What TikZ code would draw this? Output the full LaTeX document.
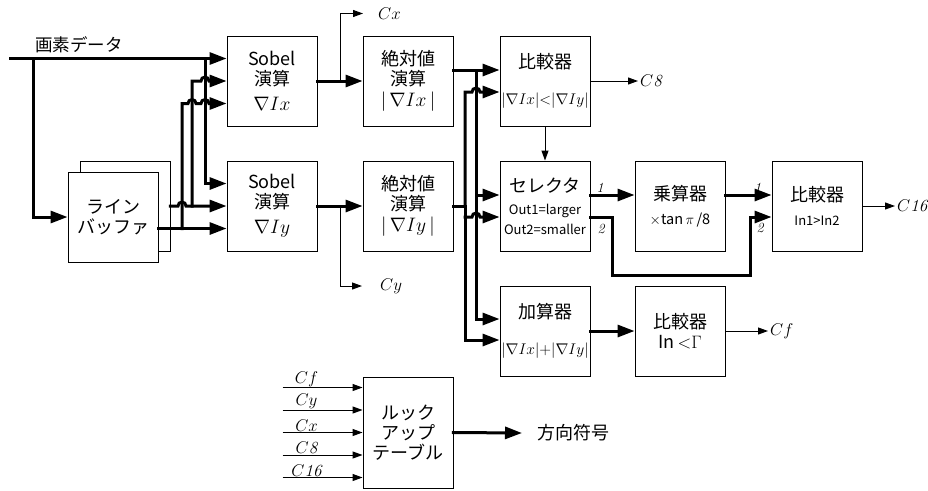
\RequirePackage{fix-cm}
\documentclass[tikz,border=0pt]{standalone}
\usepackage{fontspec}
\newfontfamily\jp{Noto Sans CJK JP}
\usetikzlibrary{arrows.meta}
\newcommand\smtxt{\fontsize{13}{15}\selectfont}
\newcommand\bigmath{\fontsize{19.5}{21}\selectfont}
\tikzset{
  blk/.style={draw, line width=0.9pt, fill=white, minimum width=90, minimum height=90,
    align=center, inner sep=1pt, font=\jp\fontsize{18}{20}\selectfont},
  wire/.style={line width=3pt, line cap=rect},
  bus/.style={wire, -{Triangle[length=17pt,width=12pt]}},
  sig/.style={line width=1pt, -{Triangle[length=10pt,width=7pt]}},
  lbl/.style={font=\fontsize{17}{19}\selectfont, inner sep=2pt},
  num/.style={font=\fontsize{14}{16}\selectfont, inner sep=1pt},
}

\begin{document}
\begin{tikzpicture}[x=1pt, y=-1pt]
    \useasboundingbox (0,0) rectangle (928,490);

    % --- blocks ---
    \node[blk] (bufb) at (125,206) {};
    \node[blk] (buf) at (113,217) {ライン\\バッファ};
    \node[blk] (sobx) at (272,81) {Sobel\\演算\\[5pt]\bigmath$\nabla Ix$};
    \node[blk] (soby) at (272,206) {Sobel\\演算\\[5pt]\bigmath$\nabla Iy$};
    \node[blk] (absx) at (408,81) {絶対値\\演算\\[1pt]\bigmath$|\,\nabla Ix\,|$};
    \node[blk] (absy) at (408,206) {絶対値\\演算\\[1pt]\bigmath$|\,\nabla Iy\,|$};
    \node[blk] (cmp) at (545,81) {比較器\\[16pt]\fontsize{15.5}{18}\selectfont$|\nabla Ix|{<}|\nabla Iy|$};
    \node[blk] (sel) at (545,206) {セレクタ\\[2pt]\smtxt Out1=larger\\\smtxt Out2=smaller};
    \node[blk] (mul) at (680,206) {乗算器\\[4pt]\fontsize{14.5}{16}\selectfont$\times$tan\,$\pi$\,/8};
    \node[blk] (cmpb) at (817,206) {比較器\\[4pt]\smtxt In1>In2};
    \node[blk] (add) at (545,331) {加算器\\[16pt]\fontsize{15.5}{18}\selectfont$|\nabla Ix|{+}|\nabla Iy|$};
    \node[blk] (cmpg) at (680,331) {比較器\\In$\,{<}\Gamma$};
    \node[blk, minimum height=111] (lut) at (408,432.5) {ルック\\アップ\\テーブル};

    % --- labels ---
    \node[lbl, font=\jp\fontsize{17.5}{20}\selectfont] (pix) at (79,45) {画素データ};
    \node[lbl, anchor=west] (cx) at (376,13.5) {$Cx$};
    \node[lbl, anchor=west] (cy) at (378,286) {$Cy$};
    \node[lbl, anchor=west] (c8) at (638,81) {$C\mathit{8}$};
    \node[lbl, anchor=west] (c16) at (895,206) {$C\mathit{16}$};
    \node[lbl, anchor=west] (cf) at (768,331) {$Cf$};
    \node[anchor=west, inner sep=0pt, font=\jp\fontsize{18}{20}\selectfont] (dir) at (537,433) {方向符号};

    % --- pixel data and line buffer ---
    \coordinate (pin) at (10,58.5);
    \coordinate (pa) at (33,58.5);
    \coordinate (pb) at (205,58.5);
    \coordinate (sx3) at ([yshift=-22.5]sobx.west);
    \coordinate (sy1) at ([yshift=22.5]soby.west);
    \coordinate (sy3) at ([yshift=-22.5]soby.west);
    \draw[bus] (pin) -- (pin -| sobx.west);
    \draw[bus] (pa) |- (buf.west);
    \draw[bus] (pb) |- (sy1);
    \draw[bus] (bufb.east) -- (178,206) arc (180:360:4) -- (soby.west);
    \draw[bus] (buf.east |- sy3) -- (sy3);
    \draw[bus] (192,206) -- (192,81) -- (201,81) arc (180:360:4) -- (sobx.west);
    \draw[bus] (182,228.5) -- (182,103.5) -- (188,103.5) arc (180:360:4)
        -- (201,103.5) arc (180:360:4) -- (sx3);

    % --- Sobel -> absolute value ---
    \coordinate (cxj) at (340,81);
    \coordinate (cyj) at (340,206);
    \draw[bus] (sobx.east) -- (absx.west);
    \draw[bus] (soby.east) -- (absy.west);
    \draw[sig, shorten >=13pt] (cxj) |- (cx.west);
    \draw[sig, shorten >=16pt] (cyj) |- (cy.west);

    % --- absolute values -> comparator, selector, adder ---
    \coordinate (xb) at (476,70);
    \coordinate (yb) at (465,206);
    \draw[bus] ([yshift=11]absx.east) -- ([yshift=11]cmp.west);
    \draw[bus] (xb) |- ([yshift=12]add.west);
    \draw[bus] (476,195) -- ([yshift=11]sel.west);
    \draw[wire] (absy.east) -- (yb);
    \draw[bus] (yb) -- (465,92) -- (472,92) arc (180:360:4) -- ([yshift=-11]cmp.west);
    \draw[bus] (465,217) -- (472,217) arc (180:360:4) -- ([yshift=-11]sel.west);
    \draw[bus] (yb) |- ([yshift=-9]add.west);

    % --- comparator / selector / multiplier ---
    \draw[sig] (cmp.east) -- (c8.west);
    \draw[sig] (cmp.south) -- (sel.north);
    \draw[bus] ([yshift=11]sel.east) -- node[num, above, pos=0.22] {$\mathit{1}$} ([yshift=11]mul.west);
    \draw[bus] ([yshift=-11]sel.east) -- (612,217) -- (612,275) -- (750,275) -- (750,217)
        -- ([yshift=-11]cmpb.west);
    \node[num] (n2a) at (601,229) {$\mathit{2}$};
    \node[num] (n2b) at (760,228) {$\mathit{2}$};
    \draw[bus] ([yshift=11]mul.east) -- node[num, above, pos=0.7] {$\mathit{1}$} ([yshift=11]cmpb.west);
    \draw[sig] (cmpb.east) -- (c16.west);

    % --- adder ---
    \draw[bus] (add.east) -- (cmpg.west);
    \draw[sig] (cmpg.east) -- (cf.west);

    % --- lookup table ---
    \foreach \lab [count=\i] in {Cf,Cy,Cx,C\mathit{8},C\mathit{16}}
        \draw[sig] ([xshift=-80, yshift={67.5-22.5*\i}]lut.west)
            -- node[pos=0.3, above, inner sep=0.5pt, font=\fontsize{17}{19}\selectfont] {$\lab$}
            ([yshift={67.5-22.5*\i}]lut.west);
    \draw[bus] (lut.east) -- ([xshift=-15]dir.west);
\end{tikzpicture}
\end{document}
